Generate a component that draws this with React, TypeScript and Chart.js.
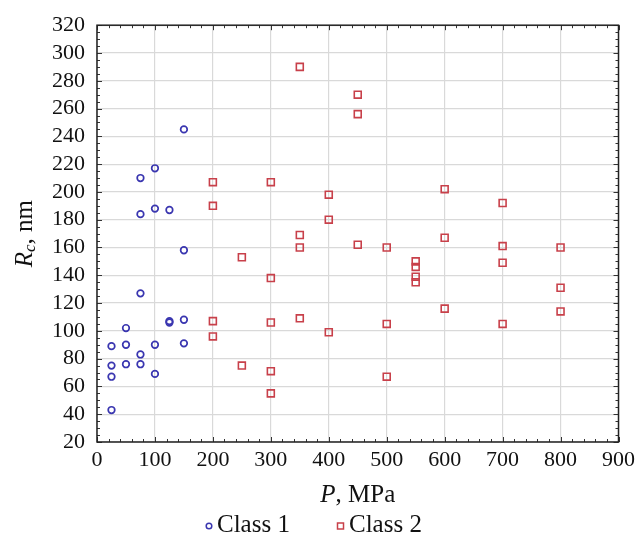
import React, { useEffect, useRef } from "react";
import { Chart, registerables } from "chart.js";

Chart.register(...registerables);

const class1P = [25, 25, 25, 25, 50, 50, 50, 75, 75, 75, 75, 75, 100, 100, 100, 100, 125, 125, 125, 150, 150, 150, 150];
const class1R = [89, 75, 67, 43, 102, 90, 76, 210, 184, 127, 83, 76, 217, 188, 90, 69, 187, 107, 106, 245, 158, 108, 91];

const class2P = [200, 200, 200, 200, 250, 250, 300, 300, 300, 300, 300, 350, 350, 350, 350, 400, 400, 400, 450, 450, 450, 500, 500, 500, 550, 550, 550, 550, 600, 600, 600, 700, 700, 700, 700, 800, 800, 800];
const class2R = [207, 190, 107, 96, 153, 75, 207, 138, 106, 71, 55, 290, 169, 160, 109, 198, 180, 99, 270, 256, 162, 160, 105, 67, 150, 146, 139, 135, 202, 167, 116, 192, 161, 149, 105, 160, 131, 114];

const xTicks = [0, 100, 200, 300, 400, 500, 600, 700, 800, 900];
const yTicks = [20, 40, 60, 80, 100, 120, 140, 160, 180, 200, 220, 240, 260, 280, 300, 320];

const seriesNames = ["Class 1", "Class 2"];
const blue = "#3a36b0";
const red = "#c8404a";
const serif = "'Liberation Serif', 'DejaVu Serif', serif";

const toPoints = (xs: number[], ys: number[]) => xs.map((x, i) => ({ x, y: ys[i] }));

const decorPlugin = {
  id: "decor",
  afterDraw(chart: any) {
    const { ctx, chartArea } = chart;
    const { left, right, top, bottom } = chartArea;
    const xs = chart.scales.x;
    const ys = chart.scales.y;
    ctx.save();
    // minor ticks
    ctx.strokeStyle = "#333";
    ctx.lineWidth = 1;
    ctx.beginPath();
    for (let v = xTicks[0]; v <= xTicks[xTicks.length - 1]; v += 20) {
      const px = Math.round(xs.getPixelForValue(v)) + 0.5;
      const len = v % 100 === 0 ? 5 : 3;
      ctx.moveTo(px, bottom);
      ctx.lineTo(px, bottom - len);
      ctx.moveTo(px, top);
      ctx.lineTo(px, top + len);
    }
    for (let v = yTicks[0]; v <= yTicks[yTicks.length - 1]; v += 5) {
      const py = Math.round(ys.getPixelForValue(v)) + 0.5;
      const len = v % 20 === 0 ? 5 : 3;
      ctx.moveTo(left, py);
      ctx.lineTo(left + len, py);
      ctx.moveTo(right, py);
      ctx.lineTo(right - len, py);
    }
    ctx.stroke();
    // frame
    ctx.strokeStyle = "#222";
    ctx.lineWidth = 1.5;
    ctx.strokeRect(left, top, right - left, bottom - top);

    // x title
    ctx.fillStyle = "#111";
    ctx.textBaseline = "middle";
    const cx = (left + right) / 2;
    const ty = 495;
    ctx.font = `italic 25px ${serif}`;
    const pW = ctx.measureText("P").width;
    ctx.font = `25px ${serif}`;
    const restW = ctx.measureText(", MPa").width;
    const sx = cx - (pW + restW) / 2;
    ctx.font = `italic 25px ${serif}`;
    ctx.textAlign = "left";
    ctx.fillText("P", sx, ty);
    ctx.font = `25px ${serif}`;
    ctx.fillText(", MPa", sx + pW, ty);

    // y title (rotated)
    ctx.save();
    ctx.translate(25, (top + bottom) / 2);
    ctx.rotate(-Math.PI / 2);
    ctx.font = `italic 25px ${serif}`;
    const rW = ctx.measureText("R").width;
    ctx.font = `italic 17px ${serif}`;
    const cW = ctx.measureText("c").width;
    ctx.font = `25px ${serif}`;
    const nmW = ctx.measureText(", nm").width;
    const yx = -(rW + cW + nmW) / 2;
    ctx.font = `italic 25px ${serif}`;
    ctx.fillText("R", yx, 0);
    ctx.font = `italic 17px ${serif}`;
    ctx.fillText("c", yx + rW, 6);
    ctx.font = `25px ${serif}`;
    ctx.fillText(", nm", yx + rW + cW, 0);
    ctx.restore();

    // legend
    const ly = 525;
    ctx.font = `25px ${serif}`;
    ctx.lineWidth = 1.5;
    ctx.strokeStyle = blue;
    ctx.beginPath();
    ctx.arc(209, ly + 1, 2.8, 0, Math.PI * 2);
    ctx.stroke();
    ctx.fillStyle = "#111";
    ctx.fillText(seriesNames[0], 217, ly);
    ctx.strokeStyle = red;
    ctx.strokeRect(337.5, ly - 2, 6, 6);
    ctx.fillText(seriesNames[1], 349, ly);
    ctx.restore();
  },
};

export default function App() {
  const ref = useRef<HTMLCanvasElement | null>(null);
  useEffect(() => {
    document.body.style.margin = "0";
    const canvas = ref.current;
    if (!canvas) return;
    const chart = new Chart(canvas, {
      type: "scatter",
      data: {
        datasets: [
          {
            label: seriesNames[0],
            data: toPoints(class1P, class1R),
            pointStyle: "circle",
            pointRadius: 3.3,
            borderColor: blue,
            backgroundColor: "rgba(0,0,0,0)",
            borderWidth: 1.7,
          },
          {
            label: seriesNames[1],
            data: toPoints(class2P, class2R),
            pointStyle: "rect",
            pointRadius: 4.9,
            borderColor: red,
            backgroundColor: "rgba(0,0,0,0)",
            borderWidth: 1.6,
          },
        ],
      },
      options: {
        responsive: false,
        animation: false,
        events: [],
        layout: { padding: { top: 22, right: 21, left: 0, bottom: 0 } },
        plugins: {
          legend: { display: false },
          tooltip: { enabled: false },
        },
        scales: {
          x: {
            type: "linear",
            min: 0,
            max: 900,
            afterBuildTicks: (scale: any) => {
              scale.ticks = xTicks.map((v) => ({ value: v }));
            },
            afterFit: (scale: any) => {
              scale.height = 96;
            },
            grid: { color: "#d9d9d9", lineWidth: 1.2, drawTicks: false },
            border: { display: false },
            ticks: {
              color: "#111",
              padding: 5,
              maxRotation: 0,
              autoSkip: false,
              font: { family: serif, size: 22 },
            },
          },
          y: {
            type: "linear",
            min: 20,
            max: 320,
            afterBuildTicks: (scale: any) => {
              scale.ticks = yTicks.map((v) => ({ value: v }));
            },
            afterFit: (scale: any) => {
              scale.width = 97;
            },
            grid: { color: "#d9d9d9", lineWidth: 1.2, drawTicks: false },
            border: { display: false },
            ticks: {
              color: "#111",
              padding: 12,
              autoSkip: false,
              font: { family: serif, size: 22 },
            },
          },
        },
      },
      plugins: [decorPlugin],
    });
    return () => chart.destroy();
  }, []);
  return (
    <div style={{ position: "absolute", left: 0, top: 0, width: 640, height: 538, background: "#fff" }}>
      <canvas ref={ref} width={640} height={538} />
    </div>
  );
}
